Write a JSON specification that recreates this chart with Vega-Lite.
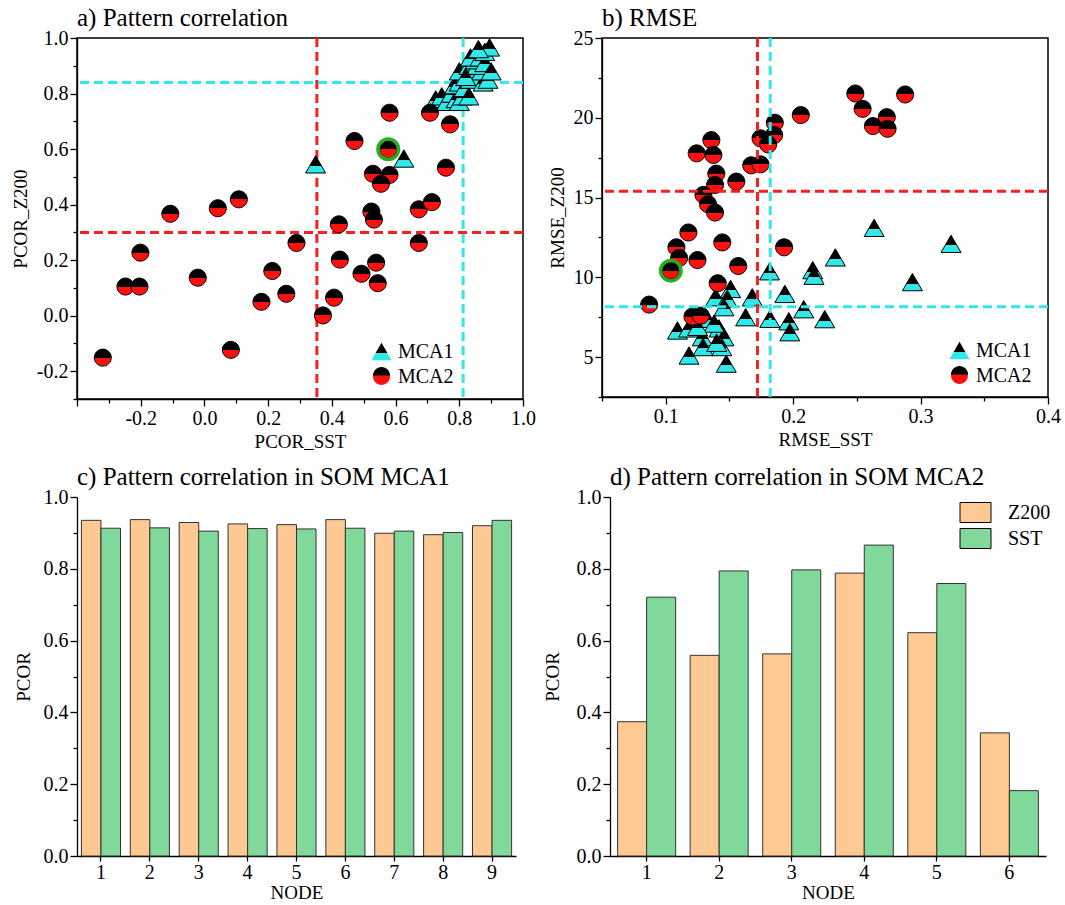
{
"$schema": "https://vega.github.io/schema/vega-lite/v6.json",
"padding": {"left": 10, "top": 5, "right": 5, "bottom": 0},
"datasets": {
"linesA": [
{"var":"SST","mca":"MCA2","value":0.353},{"var":"SST","mca":"MCA1","value":0.812},
{"var":"Z200","mca":"MCA2","value":0.30},{"var":"Z200","mca":"MCA1","value":0.84}],
"linesB": [
{"var":"SST","mca":"MCA2","value":0.172},{"var":"SST","mca":"MCA1","value":0.182},
{"var":"Z200","mca":"MCA2","value":15.4},{"var":"Z200","mca":"MCA1","value":8.15}],
"scatA": [
{"series":"MCA1","sst":0.349,"z200":0.545},{"series":"MCA1","sst":0.626,"z200":0.566},
{"series":"MCA1","sst":0.726,"z200":0.779},{"series":"MCA1","sst":0.745,"z200":0.790},{"series":"MCA1","sst":0.76,"z200":0.77},
{"series":"MCA1","sst":0.775,"z200":0.80},{"series":"MCA1","sst":0.79,"z200":0.78},{"series":"MCA1","sst":0.80,"z200":0.77},
{"series":"MCA1","sst":0.81,"z200":0.79},{"series":"MCA1","sst":0.785,"z200":0.83},{"series":"MCA1","sst":0.80,"z200":0.84},
{"series":"MCA1","sst":0.815,"z200":0.82},{"series":"MCA1","sst":0.83,"z200":0.79},{"series":"MCA1","sst":0.835,"z200":0.85},
{"series":"MCA1","sst":0.82,"z200":0.87},{"series":"MCA1","sst":0.80,"z200":0.88},{"series":"MCA1","sst":0.83,"z200":0.90},
{"series":"MCA1","sst":0.845,"z200":0.88},{"series":"MCA1","sst":0.86,"z200":0.86},{"series":"MCA1","sst":0.875,"z200":0.84},
{"series":"MCA1","sst":0.89,"z200":0.85},{"series":"MCA1","sst":0.87,"z200":0.88},{"series":"MCA1","sst":0.855,"z200":0.90},
{"series":"MCA1","sst":0.85,"z200":0.92},{"series":"MCA1","sst":0.835,"z200":0.93},{"series":"MCA1","sst":0.865,"z200":0.93},
{"series":"MCA1","sst":0.88,"z200":0.91},{"series":"MCA1","sst":0.88,"z200":0.95},{"series":"MCA1","sst":0.895,"z200":0.966},
{"series":"MCA1","sst":0.9,"z200":0.88},{"series":"MCA1","sst":0.86,"z200":0.96},{"series":"MCA1","sst":0.82,"z200":0.86},
{"series":"MCA2","sst":0.581,"z200":0.731},{"series":"MCA2","sst":0.708,"z200":0.731},{"series":"MCA2","sst":0.771,"z200":0.689},
{"series":"MCA2","sst":0.471,"z200":0.629},{"series":"MCA2","sst":0.577,"z200":0.599,"highlight":true},{"series":"MCA2","sst":0.529,"z200":0.511},
{"series":"MCA2","sst":0.581,"z200":0.507},{"series":"MCA2","sst":0.554,"z200":0.475},{"series":"MCA2","sst":0.758,"z200":0.533},
{"series":"MCA2","sst":0.108,"z200":0.419},{"series":"MCA2","sst":0.042,"z200":0.387},{"series":"MCA2","sst":-0.107,"z200":0.367},
{"series":"MCA2","sst":0.524,"z200":0.375},{"series":"MCA2","sst":0.532,"z200":0.346},{"series":"MCA2","sst":0.673,"z200":0.383},
{"series":"MCA2","sst":0.714,"z200":0.409},{"series":"MCA2","sst":0.422,"z200":0.329},{"series":"MCA2","sst":0.289,"z200":0.262},
{"series":"MCA2","sst":0.673,"z200":0.262},{"series":"MCA2","sst":-0.201,"z200":0.227},{"series":"MCA2","sst":0.425,"z200":0.202},
{"series":"MCA2","sst":0.539,"z200":0.191},{"series":"MCA2","sst":0.493,"z200":0.151},{"series":"MCA2","sst":0.544,"z200":0.117},
{"series":"MCA2","sst":0.213,"z200":0.161},{"series":"MCA2","sst":-0.021,"z200":0.137},{"series":"MCA2","sst":-0.248,"z200":0.105},
{"series":"MCA2","sst":-0.204,"z200":0.105},{"series":"MCA2","sst":0.257,"z200":0.079},{"series":"MCA2","sst":0.179,"z200":0.050},
{"series":"MCA2","sst":0.407,"z200":0.065},{"series":"MCA2","sst":0.372,"z200":0.001},{"series":"MCA2","sst":0.083,"z200":-0.123},
{"series":"MCA2","sst":-0.319,"z200":-0.151}],
"scatB": [
{"series":"MCA1","sst":0.2636,"z200":13.1},{"series":"MCA1","sst":0.3239,"z200":12.1},{"series":"MCA1","sst":0.2331,"z200":11.25},
{"series":"MCA1","sst":0.2154,"z200":10.45},{"series":"MCA1","sst":0.2164,"z200":10.1},{"series":"MCA1","sst":0.1815,"z200":10.38},
{"series":"MCA1","sst":0.2936,"z200":9.7},{"series":"MCA1","sst":0.1935,"z200":8.96},{"series":"MCA1","sst":0.1509,"z200":9.27},
{"series":"MCA1","sst":0.1392,"z200":8.75},{"series":"MCA1","sst":0.1483,"z200":8.65},{"series":"MCA1","sst":0.1679,"z200":8.75},
{"series":"MCA1","sst":0.1457,"z200":8.13},{"series":"MCA1","sst":0.2083,"z200":8.0},{"series":"MCA1","sst":0.1627,"z200":7.5},
{"series":"MCA1","sst":0.1817,"z200":7.4},{"series":"MCA1","sst":0.1966,"z200":7.25},{"series":"MCA1","sst":0.2248,"z200":7.38},
{"series":"MCA1","sst":0.1974,"z200":6.56},{"series":"MCA1","sst":0.1092,"z200":6.67},{"series":"MCA1","sst":0.118,"z200":6.8},
{"series":"MCA1","sst":0.1287,"z200":6.25},{"series":"MCA1","sst":0.1418,"z200":6.8},{"series":"MCA1","sst":0.1457,"z200":6.25},
{"series":"MCA1","sst":0.1293,"z200":5.63},{"series":"MCA1","sst":0.144,"z200":5.63},{"series":"MCA1","sst":0.1183,"z200":5.1},
{"series":"MCA1","sst":0.1475,"z200":4.59},{"series":"MCA1","sst":0.1324,"z200":7.4},{"series":"MCA1","sst":0.138,"z200":7.1},
{"series":"MCA1","sst":0.125,"z200":6.9},{"series":"MCA1","sst":0.14,"z200":5.9},
{"series":"MCA2","sst":0.2488,"z200":21.52},{"series":"MCA2","sst":0.2879,"z200":21.46},{"series":"MCA2","sst":0.2545,"z200":20.56},
{"series":"MCA2","sst":0.2735,"z200":20.04},{"series":"MCA2","sst":0.2626,"z200":19.48},{"series":"MCA2","sst":0.2741,"z200":19.31},
{"series":"MCA2","sst":0.206,"z200":20.17},{"series":"MCA2","sst":0.1856,"z200":19.69},{"series":"MCA2","sst":0.1851,"z200":18.92},
{"series":"MCA2","sst":0.1744,"z200":18.71},{"series":"MCA2","sst":0.1804,"z200":18.33},{"series":"MCA2","sst":0.1358,"z200":18.6},
{"series":"MCA2","sst":0.1243,"z200":17.77},{"series":"MCA2","sst":0.1374,"z200":17.67},{"series":"MCA2","sst":0.1671,"z200":17.02},
{"series":"MCA2","sst":0.1744,"z200":17.08},{"series":"MCA2","sst":0.1397,"z200":16.5},{"series":"MCA2","sst":0.1387,"z200":15.79},
{"series":"MCA2","sst":0.1554,"z200":16.0},{"series":"MCA2","sst":0.1296,"z200":15.17},{"series":"MCA2","sst":0.1332,"z200":14.58},
{"series":"MCA2","sst":0.1387,"z200":14.06},{"series":"MCA2","sst":0.1178,"z200":12.81},{"series":"MCA2","sst":0.1084,"z200":11.88},
{"series":"MCA2","sst":0.1105,"z200":11.21},{"series":"MCA2","sst":0.1444,"z200":12.19},{"series":"MCA2","sst":0.1249,"z200":11.08},
{"series":"MCA2","sst":0.1929,"z200":11.88},{"series":"MCA2","sst":0.1569,"z200":10.71},{"series":"MCA2","sst":0.104,"z200":10.42,"highlight":true},
{"series":"MCA2","sst":0.1408,"z200":9.63},{"series":"MCA2","sst":0.087,"z200":8.29},{"series":"MCA2","sst":0.121,"z200":7.54},
{"series":"MCA2","sst":0.1275,"z200":7.6}],
"barC": [
{"node":1,"var":"Z200","pcor":0.935},{"node":1,"var":"SST","pcor":0.913},
{"node":2,"var":"Z200","pcor":0.937},{"node":2,"var":"SST","pcor":0.914},
{"node":3,"var":"Z200","pcor":0.929},{"node":3,"var":"SST","pcor":0.905},
{"node":4,"var":"Z200","pcor":0.925},{"node":4,"var":"SST","pcor":0.912},
{"node":5,"var":"Z200","pcor":0.923},{"node":5,"var":"SST","pcor":0.911},
{"node":6,"var":"Z200","pcor":0.937},{"node":6,"var":"SST","pcor":0.913},
{"node":7,"var":"Z200","pcor":0.899},{"node":7,"var":"SST","pcor":0.905},
{"node":8,"var":"Z200","pcor":0.895},{"node":8,"var":"SST","pcor":0.901},
{"node":9,"var":"Z200","pcor":0.920},{"node":9,"var":"SST","pcor":0.935}],
"barD": [
{"node":1,"var":"Z200","pcor":0.374},{"node":1,"var":"SST","pcor":0.721},
{"node":2,"var":"Z200","pcor":0.559},{"node":2,"var":"SST","pcor":0.794},
{"node":3,"var":"Z200","pcor":0.563},{"node":3,"var":"SST","pcor":0.797},
{"node":4,"var":"Z200","pcor":0.788},{"node":4,"var":"SST","pcor":0.866},
{"node":5,"var":"Z200","pcor":0.622},{"node":5,"var":"SST","pcor":0.759},
{"node":6,"var":"Z200","pcor":0.343},{"node":6,"var":"SST","pcor":0.182}]
},
"config": {
"font": "Liberation Serif",
"view": {"stroke": null},
"axis": {"labelFont": "Liberation Serif", "titleFont": "Liberation Serif", "labelFontSize": 20, "titleFontSize": 19, "titleFontWeight": "normal", "labelColor": "black", "titleColor": "black", "domainColor": "black", "tickColor": "black", "domainWidth": 1.3, "tickWidth": 1.3, "grid": false},
"title": {"font": "Liberation Serif", "fontSize": 25, "fontWeight": "normal", "anchor": "start", "frame": "group", "color": "black", "offset": -3},
"legend": {"labelFont": "Liberation Serif", "labelFontSize": 20, "labelColor": "black"}
},
"spacing": 13,
"resolve": {"scale": {"x": "independent", "y": "independent", "color": "independent", "shape": "independent", "fill": "independent", "xOffset": "independent"}, "legend": {"color": "independent", "shape": "independent", "fill": "independent"}},
"vconcat": [
{
"hconcat": [
{
"width": 446, "height": 361,
"title": {"text": "a) Pattern correlation"},
"view": {"stroke": "black", "strokeWidth": 1.5},
"resolve": {"scale": {"shape": "independent", "fill": "independent"}, "legend": {"shape": "independent", "fill": "independent"}},
"layer": [
{"data": {"name": "linesA"}, "transform": [{"filter": "datum.var === 'SST'"}],
 "mark": {"type": "rule", "strokeDash": [9, 5], "strokeWidth": 3},
 "encoding": {
  "x": {"field": "value", "type": "quantitative", "scale": {"domain": [-0.4, 1.0], "nice": false, "zero": false},
   "axis": {"title": "PCOR_SST", "values": [-0.4,-0.3,-0.2,-0.1,0,0.1,0.2,0.3,0.4,0.5,0.6,0.7,0.8,0.9,1.0], "labelExpr": "abs(round(datum.value*10))%2==0 && datum.value>-0.35 ? (datum.value<0?'-':'')+format(abs(datum.value),'.1f') : ''", "tickSize": {"condition": {"test": "abs(round(datum.value*10))%2==0", "value": 7}, "value": 4}, "labelOverlap": false, "labelFlush": false, "titlePadding": 4}},
  "color": {"field": "mca", "type": "nominal", "scale": {"domain": ["MCA1", "MCA2"], "range": ["#30E8E8", "#F52020"]}, "legend": null}}},
{"data": {"name": "linesA"}, "transform": [{"filter": "datum.var === 'Z200'"}],
 "mark": {"type": "rule", "strokeDash": [9, 5], "strokeWidth": 3},
 "encoding": {
  "y": {"field": "value", "type": "quantitative", "scale": {"domain": [-0.3, 1.0], "nice": false, "zero": false},
   "axis": {"title": "PCOR_Z200", "values": [-0.3,-0.2,-0.1,0,0.1,0.2,0.3,0.4,0.5,0.6,0.7,0.8,0.9,1.0], "labelExpr": "abs(round(datum.value*10))%2==0 ? (datum.value<0?'-':'')+format(abs(datum.value),'.1f') : ''", "tickSize": {"condition": {"test": "abs(round(datum.value*10))%2==0", "value": 7}, "value": 4}, "labelOverlap": false, "labelFlush": false, "titlePadding": 6}},
  "color": {"field": "mca", "type": "nominal", "scale": {"domain": ["MCA1", "MCA2"], "range": ["#30E8E8", "#F52020"]}, "legend": null}}},
{"data": {"name": "scatA"},
 "encoding": {
  "x": {"field": "sst", "type": "quantitative", "scale": {"domain": [-0.4, 1.0], "nice": false, "zero": false},
   "axis": {"title": "PCOR_SST", "values": [-0.4,-0.3,-0.2,-0.1,0,0.1,0.2,0.3,0.4,0.5,0.6,0.7,0.8,0.9,1.0], "labelExpr": "abs(round(datum.value*10))%2==0 && datum.value>-0.35 ? (datum.value<0?'-':'')+format(abs(datum.value),'.1f') : ''", "tickSize": {"condition": {"test": "abs(round(datum.value*10))%2==0", "value": 7}, "value": 4}, "labelOverlap": false, "labelFlush": false, "titlePadding": 4}},
  "y": {"field": "z200", "type": "quantitative", "scale": {"domain": [-0.3, 1.0], "nice": false, "zero": false},
   "axis": {"title": "PCOR_Z200", "values": [-0.3,-0.2,-0.1,0,0.1,0.2,0.3,0.4,0.5,0.6,0.7,0.8,0.9,1.0], "labelExpr": "abs(round(datum.value*10))%2==0 ? (datum.value<0?'-':'')+format(abs(datum.value),'.1f') : ''", "tickSize": {"condition": {"test": "abs(round(datum.value*10))%2==0", "value": 7}, "value": 4}, "labelOverlap": false, "labelFlush": false, "titlePadding": 6}}},
 "layer": [
  {"transform": [{"filter": "datum.series === 'MCA1'"}],
   "mark": {"type": "point", "shape": "triangle-up", "filled": true, "size": 400, "opacity": 1, "stroke": "black", "strokeWidth": 1,
    "fill": {"gradient": "linear", "x1": 0.5, "y1": 0, "x2": 0.5, "y2": 1, "stops": [{"offset": 0, "color": "black"}, {"offset": 0.58, "color": "black"}, {"offset": 0.58, "color": "#30E8E8"}, {"offset": 1, "color": "#30E8E8"}]}}},
  {"transform": [{"filter": "datum.series === 'MCA2'"}],
   "mark": {"type": "point", "shape": "M-0.85,0A0.85,0.85,0,1,1,0.85,0A0.85,0.85,0,1,1,-0.85,0Z", "filled": true, "size": 400, "opacity": 1, "stroke": "black", "strokeWidth": 1,
    "fill": {"gradient": "linear", "x1": 0.5, "y1": 0, "x2": 0.5, "y2": 1, "stops": [{"offset": 0, "color": "black"}, {"offset": 0.5, "color": "black"}, {"offset": 0.5, "color": "#FF1010"}, {"offset": 1, "color": "#FF1010"}]}}},
  {"transform": [{"filter": "datum.highlight"}],
   "mark": {"type": "point", "shape": "circle", "filled": false, "size": 420, "opacity": 1, "stroke": "#22B022", "strokeWidth": 3.5}}
 ]},
{"data": {"name": "scatA"},
 "mark": {"type": "point", "filled": true, "size": 400, "opacity": 0},
 "encoding": {
  "x": {"field": "sst", "type": "quantitative", "scale": {"domain": [-0.4, 1.0], "nice": false, "zero": false},
   "axis": {"title": "PCOR_SST", "values": [-0.4,-0.3,-0.2,-0.1,0,0.1,0.2,0.3,0.4,0.5,0.6,0.7,0.8,0.9,1.0], "labelExpr": "abs(round(datum.value*10))%2==0 && datum.value>-0.35 ? (datum.value<0?'-':'')+format(abs(datum.value),'.1f') : ''", "tickSize": {"condition": {"test": "abs(round(datum.value*10))%2==0", "value": 7}, "value": 4}, "labelOverlap": false, "labelFlush": false, "titlePadding": 4}},
  "y": {"field": "z200", "type": "quantitative", "scale": {"domain": [-0.3, 1.0], "nice": false, "zero": false},
   "axis": {"title": "PCOR_Z200", "values": [-0.3,-0.2,-0.1,0,0.1,0.2,0.3,0.4,0.5,0.6,0.7,0.8,0.9,1.0], "labelExpr": "abs(round(datum.value*10))%2==0 ? (datum.value<0?'-':'')+format(abs(datum.value),'.1f') : ''", "tickSize": {"condition": {"test": "abs(round(datum.value*10))%2==0", "value": 7}, "value": 4}, "labelOverlap": false, "labelFlush": false, "titlePadding": 6}},
  "shape": {"field": "series", "type": "nominal", "scale": {"range": ["triangle-up", "M-0.85,0A0.85,0.85,0,1,1,0.85,0A0.85,0.85,0,1,1,-0.85,0Z"]},
   "legend": {"title": null, "orient": "none", "legendX": 294, "legendY": 303, "padding": 0, "rowPadding": 3, "symbolSize": 400, "symbolStrokeColor": "black", "symbolStrokeWidth": 1, "symbolOpacity": 1, "labelFontSize": 20, "labelOffset": 6}},
  "fill": {"field": "series", "type": "nominal", "scale": {"range": ["#30E8E8", "#FF1010"]},
   "legend": {"title": null, "orient": "none", "legendX": 294, "legendY": 303, "padding": 0, "rowPadding": 3, "symbolSize": 400, "symbolStrokeColor": "black", "symbolStrokeWidth": 1, "symbolOpacity": 1, "labelFontSize": 20, "labelOffset": 6}}}},
{"data": {"name": "scatA"}, "transform": [{"filter": "datum.series != null"}],
 "mark": {"type": "point", "filled": true, "size": 400, "opacity": 0, "fill": "black"},
 "encoding": {
  "x": {"field": "sst", "type": "quantitative", "scale": {"domain": [-0.4, 1.0], "nice": false, "zero": false},
   "axis": {"title": "PCOR_SST", "values": [-0.4,-0.3,-0.2,-0.1,0,0.1,0.2,0.3,0.4,0.5,0.6,0.7,0.8,0.9,1.0], "labelExpr": "abs(round(datum.value*10))%2==0 && datum.value>-0.35 ? (datum.value<0?'-':'')+format(abs(datum.value),'.1f') : ''", "tickSize": {"condition": {"test": "abs(round(datum.value*10))%2==0", "value": 7}, "value": 4}, "labelOverlap": false, "labelFlush": false, "titlePadding": 4}},
  "y": {"field": "z200", "type": "quantitative", "scale": {"domain": [-0.3, 1.0], "nice": false, "zero": false},
   "axis": {"title": "PCOR_Z200", "values": [-0.3,-0.2,-0.1,0,0.1,0.2,0.3,0.4,0.5,0.6,0.7,0.8,0.9,1.0], "labelExpr": "abs(round(datum.value*10))%2==0 ? (datum.value<0?'-':'')+format(abs(datum.value),'.1f') : ''", "tickSize": {"condition": {"test": "abs(round(datum.value*10))%2==0", "value": 7}, "value": 4}, "labelOverlap": false, "labelFlush": false, "titlePadding": 6}},
  "shape": {"field": "series", "type": "nominal", "scale": {"range": ["M0,-0.866L-0.58,0.1386L0.58,0.1386Z", "M-0.85,0A0.85,0.85,0,0,1,0.85,0Z"]},
   "legend": {"title": null, "orient": "none", "legendX": 294, "legendY": 303, "padding": 0, "rowPadding": 3, "symbolSize": 400, "symbolFillColor": "black", "symbolStrokeColor": "transparent", "symbolStrokeWidth": 1, "symbolOpacity": 1, "labelFontSize": 20, "labelOffset": 6, "labelOpacity": 0, "labelExpr": "''"}}}}
]
},
{
"width": 446, "height": 359,
"title": {"text": "b) RMSE"},
"view": {"stroke": "black", "strokeWidth": 1.5},
"resolve": {"scale": {"shape": "independent", "fill": "independent"}, "legend": {"shape": "independent", "fill": "independent"}},
"layer": [
{"data": {"name": "scatB"},
 "encoding": {
  "x": {"field": "sst", "type": "quantitative", "scale": {"domain": [0.05, 0.4], "nice": false, "zero": false},
   "axis": {"title": "RMSE_SST", "values": [0.05,0.1,0.15,0.2,0.25,0.3,0.35,0.4], "labelExpr": "round(datum.value*20)%2==0 ? format(datum.value,'.1f') : ''", "tickSize": {"condition": {"test": "round(datum.value*20)%2==0", "value": 7}, "value": 4}, "labelOverlap": false, "labelFlush": false, "titlePadding": 4}},
  "y": {"field": "z200", "type": "quantitative", "scale": {"domain": [2.5, 25], "nice": false, "zero": false},
   "axis": {"title": "RMSE_Z200", "values": [2.5,5,7.5,10,12.5,15,17.5,20,22.5,25], "labelExpr": "round(datum.value/2.5)%2==0 ? format(datum.value,'d') : ''", "tickSize": {"condition": {"test": "round(datum.value/2.5)%2==0", "value": 7}, "value": 4}, "labelOverlap": false, "labelFlush": false, "titlePadding": 6}}},
 "layer": [
  {"transform": [{"filter": "datum.series === 'MCA1'"}],
   "mark": {"type": "point", "shape": "triangle-up", "filled": true, "size": 400, "opacity": 1, "stroke": "black", "strokeWidth": 1,
    "fill": {"gradient": "linear", "x1": 0.5, "y1": 0, "x2": 0.5, "y2": 1, "stops": [{"offset": 0, "color": "black"}, {"offset": 0.58, "color": "black"}, {"offset": 0.58, "color": "#30E8E8"}, {"offset": 1, "color": "#30E8E8"}]}}},
  {"transform": [{"filter": "datum.series === 'MCA2'"}],
   "mark": {"type": "point", "shape": "M-0.85,0A0.85,0.85,0,1,1,0.85,0A0.85,0.85,0,1,1,-0.85,0Z", "filled": true, "size": 400, "opacity": 1, "stroke": "black", "strokeWidth": 1,
    "fill": {"gradient": "linear", "x1": 0.5, "y1": 0, "x2": 0.5, "y2": 1, "stops": [{"offset": 0, "color": "black"}, {"offset": 0.5, "color": "black"}, {"offset": 0.5, "color": "#FF1010"}, {"offset": 1, "color": "#FF1010"}]}}},
  {"transform": [{"filter": "datum.highlight"}],
   "mark": {"type": "point", "shape": "circle", "filled": false, "size": 420, "opacity": 1, "stroke": "#22B022", "strokeWidth": 3.5}}
 ]},
{"data": {"name": "linesB"}, "transform": [{"filter": "datum.var === 'SST'"}],
 "mark": {"type": "rule", "strokeDash": [9, 5], "strokeWidth": 3},
 "encoding": {
  "x": {"field": "value", "type": "quantitative", "scale": {"domain": [0.05, 0.4], "nice": false, "zero": false},
   "axis": {"title": "RMSE_SST", "values": [0.05,0.1,0.15,0.2,0.25,0.3,0.35,0.4], "labelExpr": "round(datum.value*20)%2==0 ? format(datum.value,'.1f') : ''", "tickSize": {"condition": {"test": "round(datum.value*20)%2==0", "value": 7}, "value": 4}, "labelOverlap": false, "labelFlush": false, "titlePadding": 4}},
  "color": {"field": "mca", "type": "nominal", "scale": {"domain": ["MCA1", "MCA2"], "range": ["#30E8E8", "#F52020"]}, "legend": null}}},
{"data": {"name": "linesB"}, "transform": [{"filter": "datum.var === 'Z200'"}],
 "mark": {"type": "rule", "strokeDash": [9, 5], "strokeWidth": 3},
 "encoding": {
  "y": {"field": "value", "type": "quantitative", "scale": {"domain": [2.5, 25], "nice": false, "zero": false},
   "axis": {"title": "RMSE_Z200", "values": [2.5,5,7.5,10,12.5,15,17.5,20,22.5,25], "labelExpr": "round(datum.value/2.5)%2==0 ? format(datum.value,'d') : ''", "tickSize": {"condition": {"test": "round(datum.value/2.5)%2==0", "value": 7}, "value": 4}, "labelOverlap": false, "labelFlush": false, "titlePadding": 6}},
  "color": {"field": "mca", "type": "nominal", "scale": {"domain": ["MCA1", "MCA2"], "range": ["#30E8E8", "#F52020"]}, "legend": null}}},
{"data": {"name": "scatB"},
 "mark": {"type": "point", "filled": true, "size": 400, "opacity": 0},
 "encoding": {
  "x": {"field": "sst", "type": "quantitative", "scale": {"domain": [0.05, 0.4], "nice": false, "zero": false},
   "axis": {"title": "RMSE_SST", "values": [0.05,0.1,0.15,0.2,0.25,0.3,0.35,0.4], "labelExpr": "round(datum.value*20)%2==0 ? format(datum.value,'.1f') : ''", "tickSize": {"condition": {"test": "round(datum.value*20)%2==0", "value": 7}, "value": 4}, "labelOverlap": false, "labelFlush": false, "titlePadding": 4}},
  "y": {"field": "z200", "type": "quantitative", "scale": {"domain": [2.5, 25], "nice": false, "zero": false},
   "axis": {"title": "RMSE_Z200", "values": [2.5,5,7.5,10,12.5,15,17.5,20,22.5,25], "labelExpr": "round(datum.value/2.5)%2==0 ? format(datum.value,'d') : ''", "tickSize": {"condition": {"test": "round(datum.value/2.5)%2==0", "value": 7}, "value": 4}, "labelOverlap": false, "labelFlush": false, "titlePadding": 6}},
  "shape": {"field": "series", "type": "nominal", "scale": {"range": ["triangle-up", "M-0.85,0A0.85,0.85,0,1,1,0.85,0A0.85,0.85,0,1,1,-0.85,0Z"]},
   "legend": {"title": null, "orient": "none", "legendX": 347, "legendY": 302, "padding": 0, "rowPadding": 3, "symbolSize": 400, "symbolStrokeColor": "black", "symbolStrokeWidth": 1, "symbolOpacity": 1, "labelFontSize": 20, "labelOffset": 6}},
  "fill": {"field": "series", "type": "nominal", "scale": {"range": ["#30E8E8", "#FF1010"]},
   "legend": {"title": null, "orient": "none", "legendX": 347, "legendY": 302, "padding": 0, "rowPadding": 3, "symbolSize": 400, "symbolStrokeColor": "black", "symbolStrokeWidth": 1, "symbolOpacity": 1, "labelFontSize": 20, "labelOffset": 6}}}},
{"data": {"name": "scatB"}, "transform": [{"filter": "datum.series != null"}],
 "mark": {"type": "point", "filled": true, "size": 400, "opacity": 0, "fill": "black"},
 "encoding": {
  "x": {"field": "sst", "type": "quantitative", "scale": {"domain": [0.05, 0.4], "nice": false, "zero": false},
   "axis": {"title": "RMSE_SST", "values": [0.05,0.1,0.15,0.2,0.25,0.3,0.35,0.4], "labelExpr": "round(datum.value*20)%2==0 ? format(datum.value,'.1f') : ''", "tickSize": {"condition": {"test": "round(datum.value*20)%2==0", "value": 7}, "value": 4}, "labelOverlap": false, "labelFlush": false, "titlePadding": 4}},
  "y": {"field": "z200", "type": "quantitative", "scale": {"domain": [2.5, 25], "nice": false, "zero": false},
   "axis": {"title": "RMSE_Z200", "values": [2.5,5,7.5,10,12.5,15,17.5,20,22.5,25], "labelExpr": "round(datum.value/2.5)%2==0 ? format(datum.value,'d') : ''", "tickSize": {"condition": {"test": "round(datum.value/2.5)%2==0", "value": 7}, "value": 4}, "labelOverlap": false, "labelFlush": false, "titlePadding": 6}},
  "shape": {"field": "series", "type": "nominal", "scale": {"range": ["M0,-0.866L-0.58,0.1386L0.58,0.1386Z", "M-0.85,0A0.85,0.85,0,0,1,0.85,0Z"]},
   "legend": {"title": null, "orient": "none", "legendX": 347, "legendY": 302, "padding": 0, "rowPadding": 3, "symbolSize": 400, "symbolFillColor": "black", "symbolStrokeColor": "transparent", "symbolStrokeWidth": 1, "symbolOpacity": 1, "labelFontSize": 20, "labelOffset": 6, "labelOpacity": 0, "labelExpr": "''"}}}}
]
}
],
"spacing": 79,
"bounds": "flush",
"resolve": {"scale": {"x": "independent", "y": "independent", "color": "independent", "shape": "independent", "fill": "independent"}, "legend": {"color": "independent", "shape": "independent", "fill": "independent"}}
},
{
"hconcat": [
{
"width": 439, "height": 359,
"title": {"text": "c) Pattern correlation in SOM MCA1"},
"data": {"name": "barC"},
"mark": {"type": "bar", "stroke": "#333333", "strokeWidth": 1},
"encoding": {
 "x": {"field": "node", "type": "ordinal", "scale": {"paddingInner": 0.2, "paddingOuter": 0.09}, "axis": {"title": "NODE", "labelAngle": 0, "tickSize": 5, "labelPadding": 1, "titlePadding": 1}},
 "xOffset": {"field": "var", "type": "nominal", "sort": ["Z200", "SST"], "scale": {"paddingInner": 0, "paddingOuter": 0}},
 "y": {"field": "pcor", "type": "quantitative", "scale": {"domain": [0, 1], "nice": false},
  "axis": {"title": "PCOR", "values": [0,0.1,0.2,0.3,0.4,0.5,0.6,0.7,0.8,0.9,1.0], "labelExpr": "round(datum.value*10)%2==0 ? format(datum.value,'.1f') : ''", "tickSize": {"condition": {"test": "round(datum.value*10)%2==0", "value": 7}, "value": 4}, "labelOverlap": false, "labelFlush": false, "titlePadding": 10}},
 "color": {"field": "var", "type": "nominal", "scale": {"domain": ["Z200", "SST"], "range": ["#FFC994", "#80D89A"]}, "legend": null}
}
},
{
"width": 436, "height": 359,
"title": {"text": "d) Pattern correlation in SOM MCA2"},
"data": {"name": "barD"},
"mark": {"type": "bar", "stroke": "#333333", "strokeWidth": 1},
"encoding": {
 "x": {"field": "node", "type": "ordinal", "scale": {"paddingInner": 0.2, "paddingOuter": 0.105}, "axis": {"title": "NODE", "labelAngle": 0, "tickSize": 5, "labelPadding": 1, "titlePadding": 1}},
 "xOffset": {"field": "var", "type": "nominal", "sort": ["Z200", "SST"], "scale": {"paddingInner": 0, "paddingOuter": 0}},
 "y": {"field": "pcor", "type": "quantitative", "scale": {"domain": [0, 1], "nice": false},
  "axis": {"title": "PCOR", "values": [0,0.1,0.2,0.3,0.4,0.5,0.6,0.7,0.8,0.9,1.0], "labelExpr": "round(datum.value*10)%2==0 ? format(datum.value,'.1f') : ''", "tickSize": {"condition": {"test": "round(datum.value*10)%2==0", "value": 7}, "value": 4}, "labelOverlap": false, "labelFlush": false, "titlePadding": 14}},
 "color": {"field": "var", "type": "nominal", "scale": {"domain": ["Z200", "SST"], "range": ["#FFC994", "#80D89A"]},
  "legend": {"title": null, "orient": "none", "legendX": 355, "legendY": 5, "padding": 0, "rowPadding": 1, "symbolType": "M-1.55,-1L1.55,-1L1.55,1L-1.55,1Z", "symbolSize": 400, "symbolStrokeColor": "black", "symbolStrokeWidth": 1, "symbolOpacity": 1, "labelFontSize": 20, "labelOffset": 22}}
}
}
],
"spacing": 94,
"bounds": "flush",
"resolve": {"scale": {"x": "independent", "y": "independent", "color": "independent", "xOffset": "independent"}, "legend": {"color": "independent"}}
}
]
}
